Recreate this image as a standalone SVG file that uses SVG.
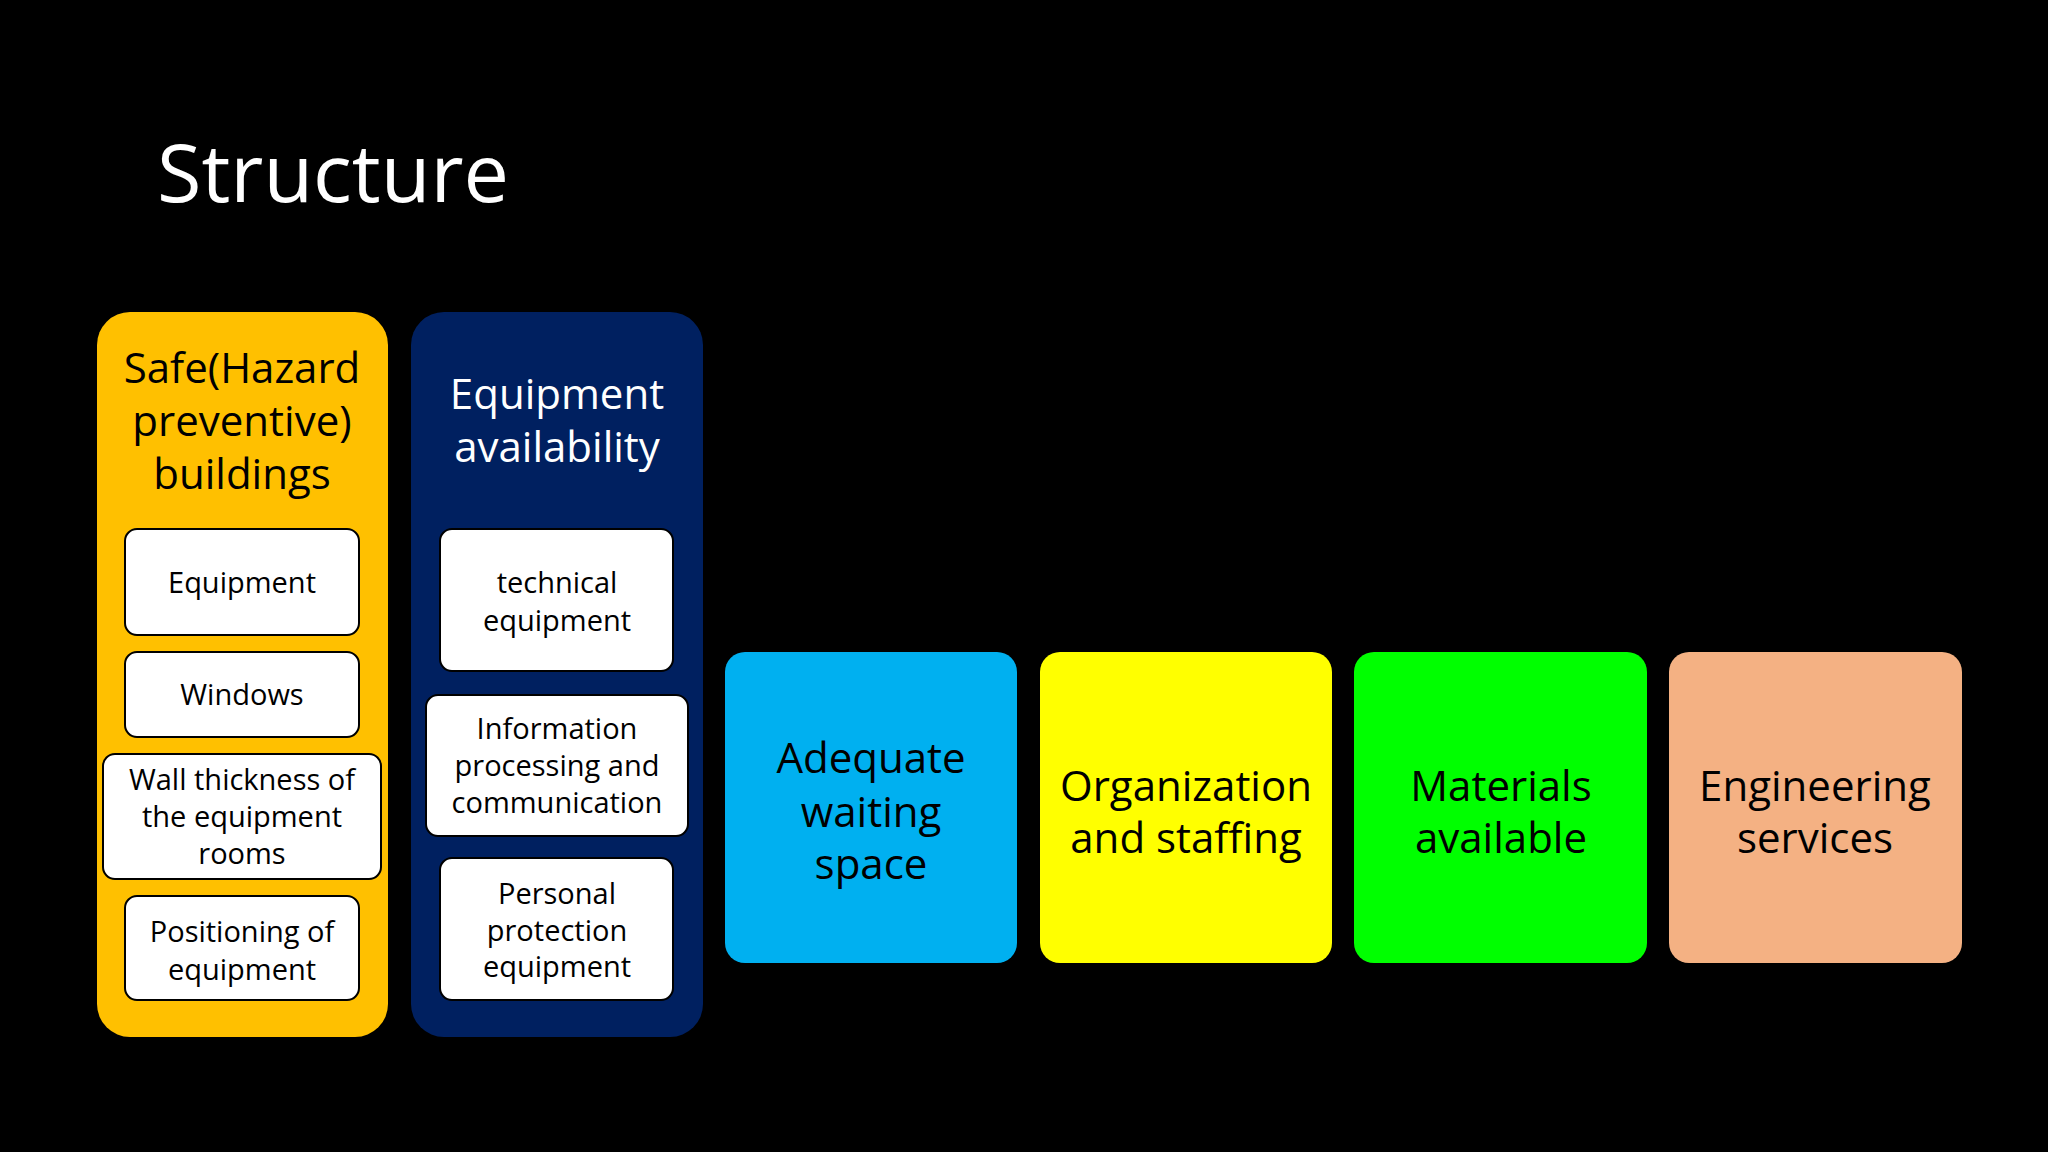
<svg xmlns="http://www.w3.org/2000/svg" width="2048" height="1152" viewBox="0 0 2048 1152">
<style>
text{font-family:"Open Sans","Noto Sans",sans-serif;text-anchor:middle;dominant-baseline:central}
.big{font-size:42px}
.sm{font-size:29px;fill:#000}
.w{fill:#fff;stroke:#000;stroke-width:2}
</style>
<rect width="2048" height="1152" fill="#000"/>
<text x="157" y="170" style="text-anchor:start;font-size:81px;fill:#fff">Structure</text>
<g id="safe">
<rect x="97" y="312" width="291" height="725" rx="33" fill="#FFC000"/>
<text class="big" x="242" y="366" fill="#000">Safe(Hazard</text>
<text class="big" x="242" y="419" fill="#000">preventive)</text>
<text class="big" x="242" y="472" fill="#000">buildings</text>
</g>
<g id="equipment"><rect class="w" x="125" y="529" width="234" height="106" rx="12"/><text class="sm" x="242" y="581">Equipment</text></g>
<g id="windows"><rect class="w" x="125" y="652" width="234" height="85" rx="12"/><text class="sm" x="242" y="693">Windows</text></g>
<g id="wall"><rect class="w" x="103" y="754" width="278" height="125" rx="12"/><text class="sm" x="242" y="778">Wall thickness of</text><text class="sm" x="242" y="815">the equipment</text><text class="sm" x="242" y="852">rooms</text></g>
<g id="positioning"><rect class="w" x="125" y="896" width="234" height="104" rx="12"/><text class="sm" x="242" y="930">Positioning of</text><text class="sm" x="242" y="968">equipment</text></g>
<g id="avail">
<rect x="411" y="312" width="292" height="725" rx="33" fill="#002060"/>
<text class="big" x="557" y="392" fill="#fff">Equipment</text>
<text class="big" x="557" y="445" fill="#fff">availability</text>
</g>
<g id="technical"><rect class="w" x="440" y="529" width="233" height="142" rx="12"/><text class="sm" x="557" y="581">technical</text><text class="sm" x="557" y="619">equipment</text></g>
<g id="info"><rect class="w" x="426" y="695" width="262" height="141" rx="12"/><text class="sm" x="557" y="727">Information</text><text class="sm" x="557" y="764">processing and</text><text class="sm" x="557" y="801">communication</text></g>
<g id="personal"><rect class="w" x="440" y="858" width="233" height="142" rx="12"/><text class="sm" x="557" y="892">Personal</text><text class="sm" x="557" y="929">protection</text><text class="sm" x="557" y="965">equipment</text></g>
<g id="waiting"><rect x="725" y="652" width="292" height="311" rx="20" fill="#00B0F0"/><text class="big" x="871" y="756">Adequate</text><text class="big" x="871" y="810">waiting</text><text class="big" x="871" y="862">space</text></g>
<g id="org"><rect x="1040" y="652" width="292" height="311" rx="20" fill="#FFFF00"/><text class="big" x="1186" y="784">Organization</text><text class="big" x="1186" y="836">and staffing</text></g>
<g id="materials"><rect x="1354" y="652" width="293" height="311" rx="20" fill="#00FF00"/><text class="big" x="1501" y="784">Materials</text><text class="big" x="1501" y="836">available</text></g>
<g id="eng"><rect x="1669" y="652" width="293" height="311" rx="20" fill="#F4B183"/><text class="big" x="1815" y="784">Engineering</text><text class="big" x="1815" y="836">services</text></g>
<g id="connectors"/>
</svg>
